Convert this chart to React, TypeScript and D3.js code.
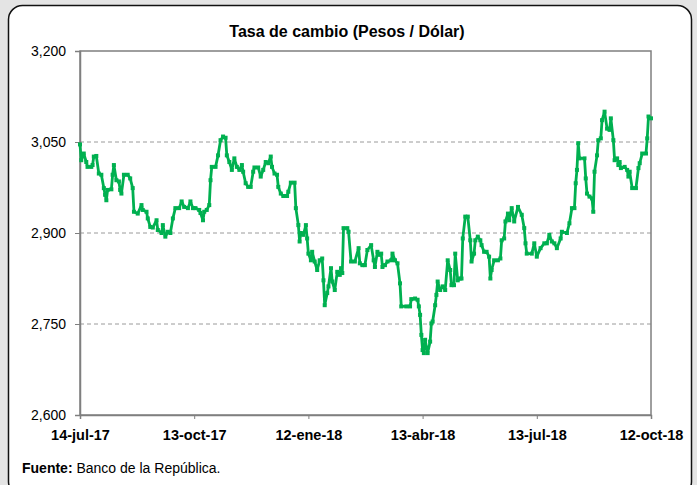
// App.tsx
import React, { useEffect, useRef } from "react";
import * as d3 from "d3";

// Tasa de cambio (TRM) 14-jul-17 .. 12-oct-18
const startDate = new Date(2017, 6, 14);

// days since 14-jul-17
const dayOffsets = [
  0, 1, 3, 5, 6, 9, 10, 11, 13, 15, 17, 19, 20, 21, 22, 25, 26, 27, 29, 31,
  32, 33, 35, 38, 40, 42, 43, 46, 49, 50, 53, 54, 56, 58, 61, 62, 65, 66, 68, 70,
  72, 74, 76, 79, 81, 83, 86, 88, 90, 92, 95, 96, 98, 99, 101, 103, 104, 105, 108, 110,
  112, 114, 116, 117, 119, 121, 123, 125, 127, 129, 130, 132, 134, 136, 138, 139, 142, 144, 146, 148,
  150, 152, 153, 155, 157, 158, 160, 162, 165, 166, 168, 171, 172, 174, 175, 176, 178, 180, 181, 182,
  184, 185, 187, 189, 191, 193, 194, 195, 197, 198, 200, 201, 203, 205, 207, 208, 209, 210, 213, 214,
  216, 219, 222, 223, 225, 227, 229, 232, 234, 235, 237, 239, 240, 241, 243, 245, 248, 249, 251, 253,
  255, 256, 260, 263, 264, 267, 269, 270, 271, 272, 273, 274, 275, 277, 279, 280, 281, 283, 284, 285,
  287, 289, 291, 293, 295, 296, 298, 299, 301, 303, 304, 305, 307, 309, 311, 312, 314, 315, 317, 319,
  320, 322, 324, 326, 327, 328, 330, 333, 335, 336, 338, 339, 341, 342, 344, 346, 349, 352, 354, 355,
  356, 360, 362, 364, 367, 370, 372, 374, 376, 378, 380, 383, 384, 388, 390, 392, 394, 395, 396, 397,
  398, 402, 403, 404, 406, 408, 409, 410, 412, 413, 415, 416, 418, 420, 422, 423, 425, 426, 428, 429,
  430, 431, 434, 436, 437, 438, 440, 443, 445, 446, 448, 451, 452, 453, 455,
];

// pesos por dólar
const rates = [
  3046, 3020, 3031, 3017, 3009, 3009, 3012, 3026, 3027, 2998, 2996, 2974, 2963, 2954, 2971, 2972, 2996, 3012, 2987, 2985,
  2971, 2965, 2996, 2996, 2990, 2974, 2935, 2932, 2946, 2938, 2935, 2924, 2910, 2909, 2921, 2905, 2900, 2913, 2894, 2902,
  2900, 2924, 2941, 2941, 2952, 2943, 2941, 2952, 2941, 2941, 2938, 2933, 2921, 2935, 2938, 2946, 2987, 3009, 3009, 3028,
  3053, 3059, 3057, 3028, 3017, 3004, 3023, 3009, 3004, 3012, 3001, 2982, 2976, 2976, 3001, 3008, 3008, 2993, 3004, 3017,
  3015, 3026, 3009, 2998, 2996, 2976, 2965, 2961, 2961, 2968, 2983, 2983, 2941, 2913, 2886, 2900, 2897, 2913, 2891, 2866,
  2855, 2869, 2853, 2839, 2855, 2858, 2822, 2781, 2801, 2812, 2842, 2820, 2806, 2836, 2831, 2842, 2834, 2908, 2908, 2902,
  2853, 2853, 2875, 2850, 2847, 2847, 2872, 2880, 2855, 2844, 2869, 2864, 2866, 2844, 2847, 2853, 2855, 2866, 2855, 2850,
  2817, 2779, 2779, 2779, 2791, 2792, 2790, 2779, 2765, 2732, 2707, 2702, 2724, 2702, 2721, 2751, 2754, 2781, 2798, 2820,
  2806, 2812, 2806, 2855, 2839, 2814, 2814, 2866, 2822, 2825, 2825, 2891, 2927, 2927, 2888, 2853, 2866, 2888, 2894, 2888,
  2880, 2869, 2869, 2861, 2825, 2839, 2855, 2855, 2858, 2888, 2891, 2919, 2932, 2921, 2941, 2919, 2943, 2930, 2908, 2883,
  2866, 2866, 2883, 2861, 2875, 2883, 2883, 2897, 2886, 2883, 2875, 2891, 2902, 2900, 2916, 2941, 2941, 2982, 3004, 3048,
  3023, 3023, 2990, 2965, 2960, 2957, 2935, 3001, 3028, 3053, 3056, 3086, 3100, 3072, 3070, 3089, 3053, 3020, 3023, 3012,
  3017, 3007, 3009, 3004, 2993, 3001, 2974, 2974, 3007, 3015, 3031, 3031, 3056, 3092, 3089,
];

const yTicks = [2600, 2750, 2900, 3050, 3200];
const xTickOffsets = [0, 91, 182, 273, 364, 455];
const xTickLabels = ["14-jul-17", "13-oct-17", "12-ene-18", "13-abr-18", "13-jul-18", "12-oct-18"];

const App = () => {
  const svgRef = useRef<SVGSVGElement | null>(null);

  useEffect(() => {
    const width = 697;
    const height = 485;
    const left = 80, right = 651, top = 51, bottom = 415;
    const font = "'Liberation Sans', Arial, sans-serif";

    const svg = d3.select(svgRef.current);
    svg.selectAll("*").remove();
    svg.attr("width", width).attr("height", height);

    const data = dayOffsets.map((d, i) => ({
      date: d3.timeDay.offset(startDate, d),
      value: rates[i],
    }));

    const x = d3
      .scaleTime()
      .domain([startDate, d3.timeDay.offset(startDate, 455)])
      .range([left, right]);
    const y = d3.scaleLinear().domain([2600, 3200]).range([bottom, top]);

    // outer frame
    svg.append("rect").attr("width", width).attr("height", height).attr("fill", "#e4e4e4");
    svg
      .append("rect")
      .attr("x", 8.5)
      .attr("y", 5.5)
      .attr("width", 683)
      .attr("height", 490)
      .attr("rx", 14)
      .attr("fill", "white")
      .attr("stroke", "#111")
      .attr("stroke-width", 1.5);

    svg
      .append("text")
      .attr("x", 347)
      .attr("y", 37)
      .attr("text-anchor", "middle")
      .attr("font-family", font)
      .attr("font-weight", "bold")
      .attr("font-size", "16px")
      .text("Tasa de cambio (Pesos / Dólar)");

    // gridlines
    svg
      .append("g")
      .selectAll("line")
      .data(yTicks.slice(1, -1))
      .join("line")
      .attr("x1", left)
      .attr("x2", right)
      .attr("y1", (d) => y(d))
      .attr("y2", (d) => y(d))
      .attr("stroke", "#9a9a9a")
      .attr("stroke-dasharray", "4,3");

    // plot area border
    svg
      .append("rect")
      .attr("x", left)
      .attr("y", top)
      .attr("width", right - left)
      .attr("height", bottom - top)
      .attr("fill", "none")
      .attr("stroke", "#7f7f7f")
      .attr("stroke-width", 1.5);

    // y axis
    const yAxis = svg
      .append("g")
      .attr("transform", `translate(${left},0)`)
      .call(
        d3
          .axisLeft(y)
          .tickValues(yTicks)
          .tickSize(5)
          .tickPadding(9)
          .tickFormat((d) => d3.format(",")(d as number))
      );
    yAxis.select(".domain").attr("stroke", "#7f7f7f").attr("stroke-width", 1.5);
    yAxis.selectAll(".tick line").attr("stroke", "#7f7f7f");
    yAxis
      .selectAll("text")
      .attr("font-family", font)
      .attr("font-size", "14px")
      .attr("fill", "#000");

    // x axis
    const xAxis = svg
      .append("g")
      .attr("transform", `translate(0,${bottom})`)
      .call(
        d3
          .axisBottom(x)
          .tickValues(xTickOffsets.map((d) => d3.timeDay.offset(startDate, d)))
          .tickSize(4)
          .tickPadding(11)
          .tickFormat((_, i) => xTickLabels[i])
      );
    xAxis.select(".domain").attr("stroke", "#7f7f7f").attr("stroke-width", 1.5);
    xAxis.selectAll(".tick line").attr("stroke", "#7f7f7f");
    xAxis
      .selectAll("text")
      .attr("font-family", font)
      .attr("font-weight", "bold")
      .attr("font-size", "14.5px")
      .attr("fill", "#000");

    // series
    const line = d3
      .line<{ date: Date; value: number }>()
      .x((d) => x(d.date))
      .y((d) => y(d.value));

    svg
      .append("path")
      .datum(data)
      .attr("d", line)
      .attr("fill", "none")
      .attr("stroke", "#00b050")
      .attr("stroke-width", 2.8)
      .attr("stroke-linejoin", "round");

    svg
      .append("g")
      .selectAll("rect")
      .data(data)
      .join("rect")
      .attr("x", (d) => x(d.date) - 2)
      .attr("y", (d) => y(d.value) - 2)
      .attr("width", 4)
      .attr("height", 4)
      .attr("fill", "#00b050");

    // source
    const src = svg
      .append("text")
      .attr("x", 22)
      .attr("y", 473)
      .attr("font-family", font)
      .attr("font-size", "14px");
    src.append("tspan").attr("font-weight", "bold").text("Fuente:");
    src.append("tspan").text(" Banco de la República.");
  }, []);

  return (
    <svg
      ref={svgRef}
      style={{ position: "absolute", left: 0, top: 0, display: "block" }}
    ></svg>
  );
};

export default App;
